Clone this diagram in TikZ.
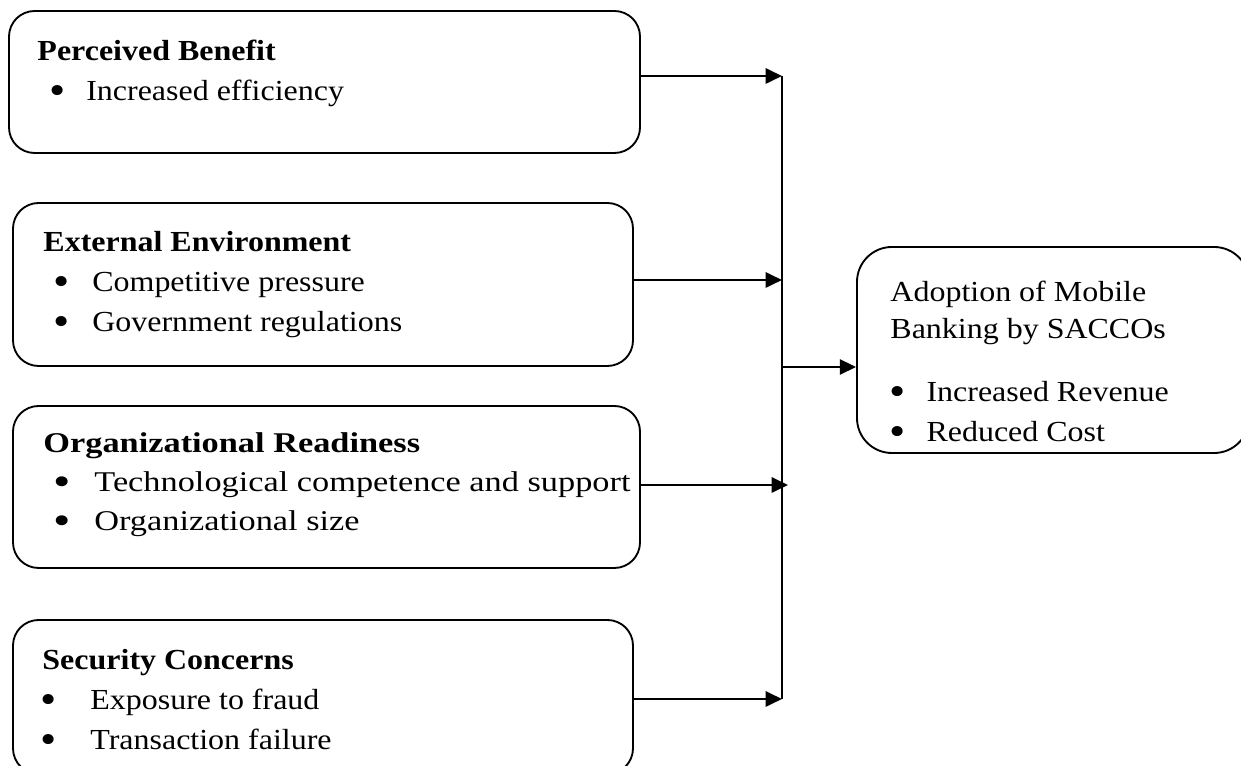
\documentclass[tikz,border=0pt]{standalone}
\usepackage{fontspec}
\setmainfont[FakeStretch=1.1]{Liberation Serif}
\newfontfamily\widefont[FakeStretch=1.2]{Liberation Serif}
\usetikzlibrary{arrows.meta,fit,positioning}
\tikzset{%
    >={Triangle[length=7pt,width=6.5pt]},
    factor/.style={draw,line width=0.8pt,rounded corners=11pt,inner sep=0pt},
    outcome/.style={draw,line width=0.8pt,rounded corners=15pt,inner sep=0pt},
    txt/.style={align=left,inner sep=0pt,anchor=base west,font=\fontsize{12.5}{17.2}\selectfont},
    widetxt/.style={txt,font=\widefont\fontsize{12.3}{16.8}\selectfont},
    link/.style={->,line width=1pt},
    trunk/.style={line width=1pt}
}
\newcommand{\bul}[2]{\hspace*{#1}\makebox[#2][l]{\raisebox{-1.6pt}{\scalebox{1.45}{\textbullet}}}}

\begin{document}
\begin{tikzpicture}[x=0.43pt,y=-0.43pt]
            \useasboundingbox (0,0) rectangle (1241,766);
            \node [factor,fit={(9,11) (640,153)}] (pb) {};
            \node [factor,fit={(13,203) (633,366)}] (ee) {};
            \node [factor,fit={(13,406) (640,568)}] (or) {};
            \node [factor,fit={(13,620) (633,774)}] (sc) {};
            \node [outcome,fit={(857,247) (1249,453)}] (ad) {};
            %%%%%
            \node [txt] (pb-t) at (37,101) {\textbf{Perceived Benefit}\\
            \bul{5.2pt}{15.8pt}Increased efficiency};
            \node [txt] (ee-t) at (43,332) {\textbf{External Environment}\\
            \bul{4.3pt}{16.7pt}Competitive pressure\\
            \bul{4.3pt}{16.7pt}Government regulations};
            \node [widetxt] (or-t) at (43,531) {\textbf{Organizational Readiness}\\
            \bul{4.3pt}{17.6pt}Technological competence and support\\
            \bul{4.3pt}{17.6pt}Organizational size};
            \node [txt] (sc-t) at (42,750) {\textbf{Security Concerns}\\
            \bul{-0.8pt}{21.4pt}Exposure to fraud\\
            \bul{-0.8pt}{21.4pt}Transaction failure};
            \node [txt] (ad-t) at (890,442) {Adoption of Mobile\\[-1.7pt]
            Banking by SACCOs\\[10.3pt]
            \bul{-0.4pt}{15.9pt}Increased Revenue\\
            \bul{-0.4pt}{15.9pt}Reduced Cost};
            %%%%%
            \coordinate (j1) at (782,76);
            \coordinate (j2) at (782,280);
            \coordinate (j3) at (788,485);
            \coordinate (j4) at (782,699);
            \coordinate (hub) at (782,367);
            \draw[link] (j1 -| pb.east) -- (j1);
            \draw[link] (j2 -| ee.east) -- (j2);
            \draw[link] (j3 -| or.east) -- (j3);
            \draw[link] (j4 -| sc.east) -- (j4);
            \draw[trunk] (j1) -- (j4);
            \draw[link] (hub) -- (hub -| ad.west);
\end{tikzpicture}
\end{document}
